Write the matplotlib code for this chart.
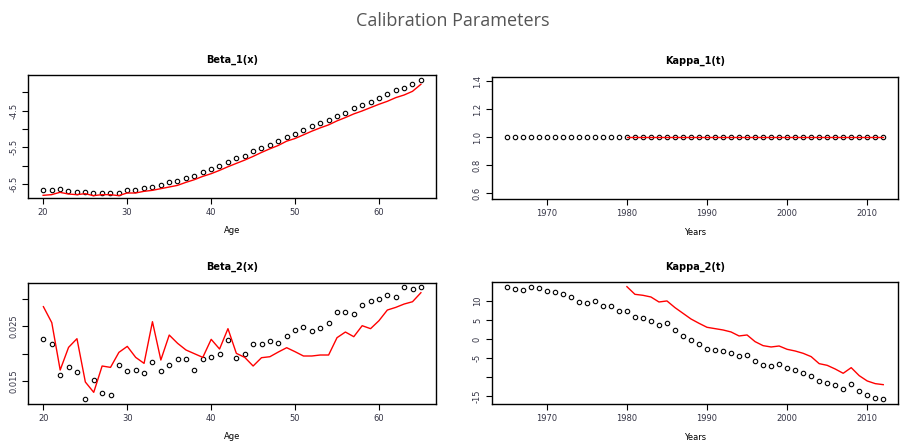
import numpy as np
import matplotlib.pyplot as plt

ages = list(range(20, 66))
years = list(range(1965, 2013))
years_fit = list(range(1980, 2013))

beta1_obs = [-6.654, -6.654, -6.627, -6.68, -6.71, -6.71, -6.735, -6.735, -6.735, -6.735,
             -6.654, -6.654, -6.60, -6.572, -6.527, -6.455, -6.428, -6.33, -6.283, -6.165,
             -6.10, -6.00, -5.91, -5.80, -5.73, -5.605, -5.533, -5.434, -5.325, -5.207,
             -5.135, -5.036, -4.927, -4.828, -4.755, -4.638, -4.557, -4.43, -4.357, -4.258,
             -4.15, -4.05, -3.95, -3.878, -3.78, -3.68]
beta1_fit = [-6.807, -6.789, -6.726, -6.771, -6.789, -6.762, -6.816, -6.789, -6.789, -6.816,
             -6.744, -6.744, -6.699, -6.672, -6.627, -6.582, -6.537, -6.455, -6.383, -6.293,
             -6.220, -6.130, -6.031, -5.940, -5.850, -5.750, -5.642, -5.543, -5.452, -5.335,
             -5.262, -5.163, -5.063, -4.973, -4.891, -4.783, -4.692, -4.593, -4.512, -4.421,
             -4.331, -4.250, -4.150, -4.078, -3.978, -3.787]

kappa1_obs = [1.0] * len(years)
kappa1_fit = [1.0] * len(years_fit)

beta2_obs = [0.02264, 0.02179, 0.01603, 0.01761, 0.01658, 0.01173, 0.01524, 0.01288, 0.01239, 0.01791,
             0.01676, 0.01694, 0.01639, 0.01839, 0.01676, 0.01791, 0.01894, 0.01894, 0.01694, 0.01906,
             0.01942, 0.01991, 0.02245, 0.01912, 0.01997, 0.02179, 0.02179, 0.02233, 0.02197, 0.02312,
             0.02427, 0.02476, 0.02409, 0.02464, 0.02548, 0.02748, 0.02748, 0.02712, 0.02882, 0.02948,
             0.02985, 0.03070, 0.03033, 0.03215, 0.03167, 0.03215]
beta2_fit = [0.02852, 0.02561, 0.01700, 0.02112, 0.02270, 0.01482, 0.01294, 0.01773, 0.01748, 0.02021,
             0.02130, 0.01930, 0.01821, 0.02579, 0.01882, 0.02336, 0.02185, 0.02064, 0.01997, 0.01930,
             0.02258, 0.02082, 0.02452, 0.02003, 0.01930, 0.01773, 0.01924, 0.01942, 0.02027, 0.02106,
             0.02033, 0.01955, 0.01955, 0.01973, 0.01973, 0.02288, 0.02391, 0.02306, 0.02506, 0.02452,
             0.02597, 0.02791, 0.02839, 0.02900, 0.02942, 0.03106]

kappa2_obs = [13.72, 13.2, 12.94, 13.72, 13.46, 12.67, 12.41, 11.71, 11.01, 9.79,
              9.53, 10.05, 8.57, 8.57, 7.43, 7.43, 5.68, 5.42, 4.72, 3.76,
              4.11, 2.36, 0.87, -0.35, -1.31, -2.53, -2.80, -3.06, -3.76, -4.46,
              -4.20, -5.68, -6.82, -7.08, -6.56, -7.52, -8.04, -8.83, -9.79, -10.93,
              -11.45, -12.15, -13.02, -11.89, -13.64, -14.77, -15.47, -15.73]
kappa2_fit = [13.72, 11.71, 11.45, 11.01, 9.70, 9.97, 8.22, 6.73, 5.24, 4.11,
              3.06, 2.71, 2.36, 1.84, 0.79, 1.05, -0.70, -1.75, -2.10, -1.84,
              -2.71, -3.15, -3.76, -4.63, -6.47, -6.91, -7.87, -9.00, -7.52, -9.62,
              -11.01, -11.71, -11.98]

W, H = 907, 441
fig = plt.figure(figsize=(W / 100, H / 100), dpi=100)
fig.text(453 / W, 1 - 21 / H, "Calibration Parameters", ha="center", va="center",
         fontsize=13, color="#555555", family="Open Sans")


def box(l, t, r, b):
    return fig.add_axes([l / W, 1 - b / H, (r - l) / W, (b - t) / H])


def panel(ax, title, xlabel, x_obs, y_obs, x_fit, y_fit, xlim, ylim, xticks, yticks, ylabels):
    ax.plot(x_obs, y_obs, "o", mfc="none", mec="black", ms=3.2, mew=0.8)
    ax.plot(x_fit, y_fit, color="red", lw=1.0)
    ax.set_xlim(*xlim)
    ax.set_ylim(*ylim)
    ax.set_xticks(xticks)
    ax.set_yticks(yticks)
    ax.set_yticklabels(ylabels, rotation=90, va="center")
    ax.tick_params(direction="out", length=4, width=0.8, labelsize=6,
                   labelcolor="#333344", pad=3)
    for s in ax.spines.values():
        s.set_linewidth(1.0)
    ax.set_title(title, fontsize=7, fontweight="bold", pad=9)
    ax.set_xlabel(xlabel, fontsize=6, labelpad=7)


ax1 = box(28, 75, 436, 198)
panel(ax1, "Beta_1(x)", "Age", ages, beta1_obs, ages, beta1_fit,
      (18.2, 66.8), (-6.88, -3.534), [20, 30, 40, 50, 60],
      [-6.5, -6.0, -5.5, -5.0, -4.5, -4.0], ["-6.5", "", "-5.5", "", "-4.5", ""])

ax2 = box(491.7, 76.7, 898.3, 199.3)
panel(ax2, "Kappa_1(t)", "Years", years, kappa1_obs, years_fit, kappa1_fit,
      (1963.12, 2013.88), (0.557, 1.433), [1970, 1980, 1990, 2000, 2010],
      [0.6, 0.8, 1.0, 1.2, 1.4], ["0.6", "0.8", "1.0", "1.2", "1.4"])

ax3 = box(28.3, 282.7, 436, 404)
panel(ax3, "Beta_2(x)", "Age", ages, beta2_obs, ages, beta2_fit,
      (18.2, 66.8), (0.01082, 0.03288), [20, 30, 40, 50, 60],
      [0.015, 0.020, 0.025, 0.030], ["0.015", "", "0.025", ""])

ax4 = box(491.7, 282.3, 898.3, 404.3)
panel(ax4, "Kappa_2(t)", "Years", years, kappa2_obs, years_fit, kappa2_fit,
      (1963.12, 2013.88), (-17.13, 14.86), [1970, 1980, 1990, 2000, 2010],
      [-15, -10, -5, 0, 5, 10], ["-15", "", "-5", "0", "5", "10"])

fig.savefig("out.png", dpi=100)
